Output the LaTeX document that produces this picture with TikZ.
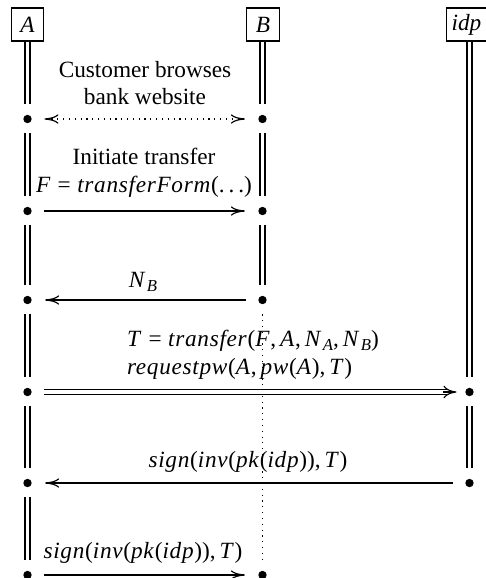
\documentclass[tikz,border=0pt]{standalone}
\usepackage{fontspec}
\setmainfont{Liberation Serif}
\newfontfamily\mitfamily{Liberation Serif}[LetterSpace=3]
\usetikzlibrary{arrows.meta}

% italic identifiers (with italic correction) and subscripted names
\newcommand\iv[1]{{\mitfamily\itshape #1\/}}
\newcommand\nsub[2]{\iv{#1}\kern0.3pt\raisebox{-1.6pt}{\fontsize{7.2}{8}\selectfont\itshape #2\/}}
\newcommand\eqs{\hspace{2.8pt}=\hspace{2.8pt}}
\newcommand\cm{,\hspace{1.7pt}}

\begin{document}
\begin{tikzpicture}[x=0.43pt,y=-0.43pt,
  agent/.style={draw,line width=0.45pt,minimum width=14pt,minimum height=14.2pt,inner sep=0pt,font=\itshape},
  dot/.style={circle,fill,inner sep=0pt,minimum size=3.6pt},
  life/.style={draw,line width=0.45pt,double,double distance=1.7pt},
  tip/.style={-{To[length=5.6pt,width=5.4pt]}},
  msg/.style={draw,line width=0.5pt,-{To[length=6pt,width=4pt]},shorten <=5.3pt,shorten >=5.6pt},
  dshaft/.style={draw,line width=0.45pt,double,double distance=1.7pt,shorten <=5.3pt,shorten >=7.4pt},
  dhead/.style={draw,line width=0.5pt,tip,shorten >=5.6pt},
  lbl/.style={inner sep=0pt,align=center}]
\useasboundingbox (0,0) rectangle (485,578);

% participants
\node[agent] (A) at (27.5,24.5) {A};
\node[agent] (B) at (263,24.5) {B};
\node[agent,minimum width=17pt] (I) at (466.5,24.5) {idp};

% message end points on the lifelines
\foreach \n/\y in {1/119,2/211,3/300,4/392,5/483,6/575}{
  \node[dot] (a\n) at (27.5,\y) {};
}
\foreach \n/\y in {1/119,2/211,3/300,6/575}{
  \node[dot] (b\n) at (262.5,\y) {};
}
\node[dot] (i4) at (469.5,392) {};
\node[dot] (i5) at (469.5,483) {};

% lifelines
\path[life,shorten >=4.6pt] (A.south) -- (a1);
\foreach \p/\q in {a1/a2,a2/a3,a3/a4,a4/a5,a5/a6}{
  \path[life,shorten <=4.2pt,shorten >=4.6pt] (\p) -- (\q);
}
\path[life,shorten >=4.6pt] (B.south -| b1) -- (b1);
\foreach \p/\q in {b1/b2,b2/b3}{
  \path[life,shorten <=4.2pt,shorten >=4.6pt] (\p) -- (\q);
}
\draw[line width=0.5pt,dotted,shorten <=4.2pt,shorten >=3.4pt] (b3) -- (b6);
\path[life,shorten >=4.6pt] (I.south -| i4) -- (i4);
\path[life,shorten <=4.2pt,shorten >=4.6pt] (i4) -- (i5);

% messages
\draw[msg,dotted,{To[length=6pt,width=4pt]}-{To[length=6pt,width=4pt]}] (a1) -- (b1);
\draw[msg] (a2) -- (b2);
\draw[msg] (b3) -- (a3);
\path[dshaft] (a4) -- (i4);
\path[dhead] ([xshift=-11.3pt]i4.center) -- (i4.center);
\draw[msg] (i5) -- (a5);
\draw[msg] (a6) -- (b6);

% labels
\node[lbl] (l1) at (145,83) {Customer browses\\bank website};
\node[lbl] (l2) at (144,173) {Initiate transfer\\\iv{F}\eqs\iv{transferForm}(.\hspace{1.7pt}.\hspace{1.7pt}.)};
\node[lbl] (l3) at (143,282) {\nsub{N}{B}};
\node[lbl,align=left] (l4) at (253,355) {\iv{T}\eqs\iv{transfer}(\iv{F}\cm\iv{A}\cm\nsub{N}{A}\cm\nsub{N}{B})\\\iv{requestpw}(\iv{A}\cm\iv{pw}(\iv{A})\cm\iv{T})};
\node[lbl] (l5) at (248,462) {\iv{sign}(\iv{inv}(\iv{pk}(\iv{idp}))\cm\iv{T})};
\node[lbl] (l6) at (143,553) {\iv{sign}(\iv{inv}(\iv{pk}(\iv{idp}))\cm\iv{T})};
\end{tikzpicture}
\end{document}
